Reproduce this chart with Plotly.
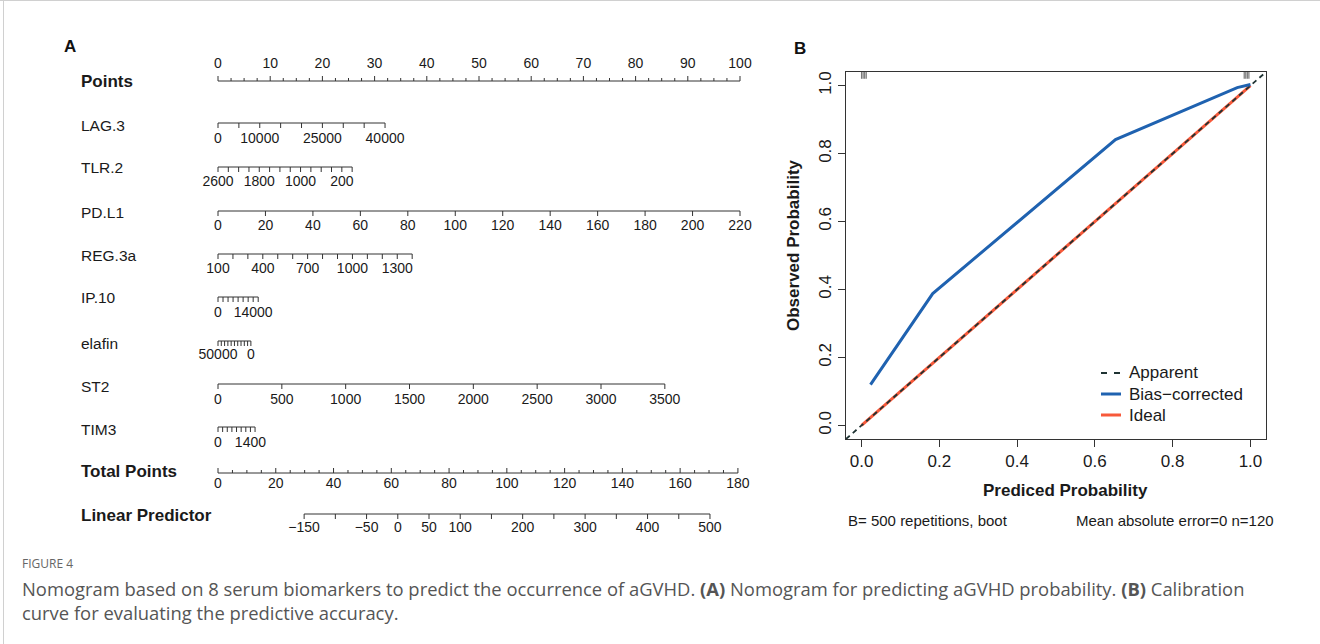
import plotly.graph_objects as go

W, H = 1320, 644

# ---------------- Panel A : nomogram data ----------------
points_ticks = [i * 2.5 for i in range(41)]
points_labels = list(range(0, 101, 10))

lag3_ticks = list(range(0, 40001, 5000))
lag3_labels = [0, 10000, 25000, 40000]
lag3_scale = (0, 0.0, 40000, 32.0)          # (value_a, points_a, value_b, points_b)

tlr2_ticks = list(range(2600, -1, -200))
tlr2_labels = [2600, 1800, 1000, 200]
tlr2_scale = (2600, 0.0, 0, 25.7)

pdl1_ticks = list(range(0, 221, 20))
pdl1_labels = list(range(0, 221, 20))
pdl1_scale = (0, 0.0, 220, 100.0)

reg3a_ticks = list(range(100, 1401, 100))
reg3a_labels = [100, 400, 700, 1000, 1300]
reg3a_scale = (100, 0.0, 1400, 37.2)

ip10_ticks = list(range(0, 16001, 2000))
ip10_labels = [0, 14000]
ip10_scale = (0, 0.0, 16000, 7.7)

elafin_ticks = list(range(50000, -1, -5000))
elafin_labels = [50000, 0]
elafin_scale = (50000, 0.0, 0, 6.3)

st2_ticks = list(range(0, 3501, 500))
st2_labels = list(range(0, 3501, 500))
st2_scale = (0, 0.0, 3500, 85.6)

tim3_ticks = list(range(0, 1601, 200))
tim3_labels = [0, 1400]
tim3_scale = (0, 0.0, 1600, 7.1)

total_ticks = list(range(0, 181, 5))
total_labels = list(range(0, 181, 20))
total_scale = (0, 0.0, 180, 99.6)

lp_ticks = list(range(-150, 501, 50))
lp_labels = [-150, -50, 0, 50, 100, 200, 300, 400, 500]
lp_scale = (-150, 16.5, 500, 94.25)

# ---------------- Panel B : calibration data ----------------
bias_x = [0.023, 0.183, 0.653, 0.966, 1.0]
bias_y = [0.12, 0.388, 0.841, 0.994, 1.003]
ideal_x = [0.0, 1.0]
ideal_y = [0.0, 1.0]
apparent_x = [-0.04, 1.04]
apparent_y = [-0.04, 1.04]
rug_x = [0.0, 0.004, 0.008, 0.012, 0.984, 0.988, 0.992, 0.996]
cal_ticks = [0.0, 0.2, 0.4, 0.6, 0.8, 1.0]

# ---------------- layout helpers ----------------
FONT = "Liberation Sans, Arial, Helvetica, sans-serif"
INK = "#1a1a1a"
AX = "#333333"
PX_PER_PT = 5.22
X0_PX = 218


def px(x):
    return x / W


def py(y):
    return 1 - y / H


def to_pts(v, scale):
    va, pa, vb, pb = scale
    return pa + (v - va) / (vb - va) * (pb - pa)


def fmt(v):
    return str(v).replace("-", "\u2212")


fig = go.Figure()

rows = [
    ("Points", True, points_ticks, points_labels, (0, 0.0, 100, 100.0), 81, 64, 82, -1, True),
    ("LAG.3", False, lag3_ticks, lag3_labels, lag3_scale, 123, 139, 125, 1, False),
    ("TLR.2", False, tlr2_ticks, tlr2_labels, tlr2_scale, 167, 182, 167, 1, False),
    ("PD.L1", False, pdl1_ticks, pdl1_labels, pdl1_scale, 211, 226, 212, 1, False),
    ("REG.3a", False, reg3a_ticks, reg3a_labels, reg3a_scale, 254, 269, 256, 1, False),
    ("IP.10", False, ip10_ticks, ip10_labels, ip10_scale, 297, 313, 298, 1, False),
    ("elafin", False, elafin_ticks, elafin_labels, elafin_scale, 341, 355, 343, 1, False),
    ("ST2", False, st2_ticks, st2_labels, st2_scale, 384, 400, 386, 1, False),
    ("TIM3", False, tim3_ticks, tim3_labels, tim3_scale, 427, 443, 429, 1, False),
    ("Total Points", True, total_ticks, total_labels, total_scale, 473, 484, 471, -1, True),
    ("Linear Predictor", True, lp_ticks, lp_labels, lp_scale, 514, 528, 515, 1, False),
]

annotations = []
shapes = []

for name, bold, ticks, labels, scale, ly, lab_y, ny, tdir, minor in rows:
    xs = [to_pts(t, scale) for t in ticks]
    fig.add_trace(go.Scatter(x=[min(xs), max(xs)], y=[ly, ly], mode="lines",
                             line=dict(color=AX, width=1), xaxis="x", yaxis="y",
                             hoverinfo="skip", showlegend=False))
    tx, ty = [], []
    for t, x in zip(ticks, xs):
        ln = 5
        if minor and t not in labels:
            ln = 3
        tx += [x, x, None]
        ty += [ly, ly + tdir * ln, None]
    fig.add_trace(go.Scatter(x=tx, y=ty, mode="lines", line=dict(color=AX, width=1),
                             xaxis="x", yaxis="y", hoverinfo="skip", showlegend=False))
    fig.add_trace(go.Scatter(x=[to_pts(v, scale) for v in labels], y=[lab_y] * len(labels),
                             mode="text", text=[fmt(v) for v in labels],
                             textposition="middle center",
                             textfont=dict(family=FONT, size=14, color=INK),
                             xaxis="x", yaxis="y", hoverinfo="skip", showlegend=False))
    annotations.append(dict(x=px(79), y=py(ny), xref="paper", yref="paper",
                            xanchor="left", yanchor="middle", showarrow=False,
                            text=("<b>%s</b>" % name) if bold else name,
                            font=dict(family=FONT, size=17 if bold else 15.5, color=INK)))

# ---------------- Panel B traces ----------------
fig.add_trace(go.Scatter(x=ideal_x, y=ideal_y, mode="lines", name="Ideal",
                         line=dict(color="#F7593A", width=3), xaxis="x2", yaxis="y2",
                         hoverinfo="skip", showlegend=False))
fig.add_trace(go.Scatter(x=apparent_x, y=apparent_y, mode="lines", name="Apparent",
                         line=dict(color="#1f3333", width=1.8, dash="5px,4px"),
                         xaxis="x2", yaxis="y2", hoverinfo="skip", showlegend=False))
fig.add_trace(go.Scatter(x=bias_x, y=bias_y, mode="lines", name="Bias-corrected",
                         line=dict(color="#1F62B0", width=3), xaxis="x2", yaxis="y2",
                         hoverinfo="skip", showlegend=False))
rx, ry = [], []
for r in rug_x:
    rx += [r, r, None]
    ry += [1.02, 1.04, None]
fig.add_trace(go.Scatter(x=rx, y=ry, mode="lines", line=dict(color="#777777", width=1.2),
                         xaxis="x2", yaxis="y2", hoverinfo="skip", showlegend=False))

leg = [("Apparent", "#1f3333", "6px,7px", 2, 373),
       ("Bias\u2212corrected", "#1F62B0", "solid", 3, 394),
       ("Ideal", "#F7593A", "solid", 3, 415)]
for label, col, dash, wd, yy in leg:
    shapes.append(dict(type="line", xref="paper", yref="paper",
                       x0=px(1101), x1=px(1121), y0=py(yy), y1=py(yy),
                       line=dict(color=col, width=wd, dash=dash)))
    annotations.append(dict(x=px(1127), y=py(yy), xref="paper", yref="paper",
                            xanchor="left", yanchor="middle", showarrow=False, text=label,
                            font=dict(family=FONT, size=17, color=INK)))

CAP = "Open Sans"
annotations += [
    dict(x=px(793), y=py(245), xref="paper", yref="paper", textangle=-90,
         xanchor="center", yanchor="middle", showarrow=False,
         text="<b>Observed Probability</b>", font=dict(family=FONT, size=17, color=INK)),
    dict(x=px(1065), y=py(490), xref="paper", yref="paper",
         xanchor="center", yanchor="middle", showarrow=False,
         text="<b>Prediced Probability</b>", font=dict(family=FONT, size=17, color=INK)),
    dict(x=px(846), y=py(520), xref="paper", yref="paper",
         xanchor="left", yanchor="middle", showarrow=False,
         text="B= 500 repetitions, boot", font=dict(family=FONT, size=15, color=INK)),
    dict(x=px(1276), y=py(520), xref="paper", yref="paper",
         xanchor="right", yanchor="middle", showarrow=False,
         text="Mean absolute error=0 n=120", font=dict(family=FONT, size=15, color=INK)),
    dict(x=px(62), y=py(47), xref="paper", yref="paper",
         xanchor="left", yanchor="middle", showarrow=False,
         text="<b>A</b>", font=dict(family=FONT, size=17, color="#111")),
    dict(x=px(792), y=py(48), xref="paper", yref="paper",
         xanchor="left", yanchor="middle", showarrow=False,
         text="<b>B</b>", font=dict(family=FONT, size=17, color="#111")),
    dict(x=px(20), y=py(563), xref="paper", yref="paper",
         xanchor="left", yanchor="middle", showarrow=False,
         text="FIGURE 4", font=dict(family=CAP, size=12, color="#666666")),
    dict(x=px(20), y=py(588), xref="paper", yref="paper",
         xanchor="left", yanchor="middle", showarrow=False,
         text=("Nomogram based on 8 serum biomarkers to predict the occurrence of aGVHD. "
               "<b>(A)</b> Nomogram for predicting aGVHD probability. <b>(B)</b> Calibration"),
         font=dict(family=CAP, size=18.4, color="#555555")),
    dict(x=px(20), y=py(612), xref="paper", yref="paper",
         xanchor="left", yanchor="middle", showarrow=False,
         text="curve for evaluating the predictive accuracy.",
         font=dict(family=CAP, size=18.4, color="#555555")),
]

shapes += [
    dict(type="line", xref="paper", yref="paper", x0=0, x1=1, y0=py(0.5), y1=py(0.5),
         line=dict(color="#d0d0d0", width=1)),
    dict(type="line", xref="paper", yref="paper", x0=px(3.5), x1=px(3.5), y0=0, y1=1,
         line=dict(color="#d0d0d0", width=1)),
]

fig.update_layout(
    width=W, height=H, margin=dict(l=0, r=0, t=0, b=0),
    paper_bgcolor="white", plot_bgcolor="rgba(0,0,0,0)",
    showlegend=False,
    xaxis=dict(domain=[0, 1], range=[-X0_PX / PX_PER_PT, (W - X0_PX) / PX_PER_PT],
               visible=False, fixedrange=True),
    yaxis=dict(domain=[0, 1], range=[H, 0], visible=False, fixedrange=True),
    xaxis2=dict(domain=[846 / W, 1266 / W], range=[-0.04, 1.04], anchor="y2",
                showline=True, mirror=True, linecolor="#333", linewidth=1,
                ticks="outside", ticklen=7, tickcolor="#333", tickwidth=1,
                tickvals=cal_ticks, tickformat=".1f", showgrid=False, zeroline=False,
                tickfont=dict(family=FONT, size=17, color=INK)),
    yaxis2=dict(domain=[(H - 439) / H, (H - 72) / H], range=[-0.04, 1.04], anchor="x2",
                showline=True, mirror=True, linecolor="#333", linewidth=1,
                ticks="outside", ticklen=7, tickcolor="#333", tickwidth=1,
                tickvals=cal_ticks, tickformat=".1f", showgrid=False, zeroline=False,
                tickangle=-90, tickfont=dict(family=FONT, size=17, color=INK)),
    annotations=annotations,
    shapes=shapes,
)

fig.write_html("out.html")
